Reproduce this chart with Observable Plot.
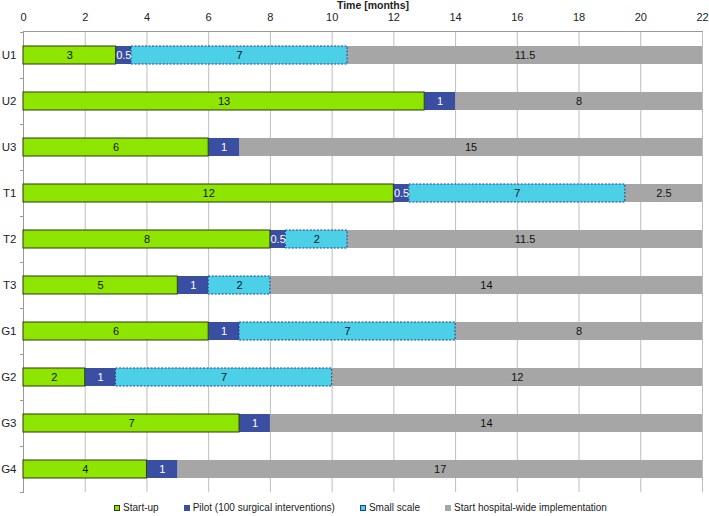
<!DOCTYPE html>
<html>
<head>
<meta charset="utf-8">
<script src="https://cdn.jsdelivr.net/npm/d3@7"></script>
<script src="https://cdn.jsdelivr.net/npm/@observablehq/plot@0.6"></script>
<style>
  body { margin: 0; background: #fff; font-family: "Liberation Sans", Arial, sans-serif; }
  #legend { display: flex; justify-content: center; gap: 25px; font-size: 10px; color: #222; margin-top: 6px; padding-left: 12px; }
  #legend span.item { display: inline-flex; align-items: center; }
  #legend i { display: inline-block; width: 6px; height: 6px; margin-right: 3px; box-sizing: border-box; }
</style>
</head>
<body>
<div id="chart"></div>
<div id="legend"></div>
<script>
const sites = ["U1", "U2", "U3", "T1", "T2", "T3", "G1", "G2", "G3", "G4"];
const startup = [3, 13, 6, 12, 8, 5, 6, 2, 7, 4];
const pilot = [0.5, 1, 1, 0.5, 0.5, 1, 1, 1, 1, 1];
const smallScale = [7, 0, 0, 7, 2, 2, 7, 7, 0, 0];
const hospitalWide = [11.5, 8, 15, 2.5, 11.5, 14, 8, 12, 14, 17];
const phases = ["Start-up", "Pilot (100 surgical interventions)", "Small scale", "Start hospital-wide implementation"];
const phaseColors = ["#8ee600", "#3b4fa2", "#4bd0e8", "#a6a6a6"];
const xTicks = [0, 2, 4, 6, 8, 10, 12, 14, 16, 18, 20, 22];

const series = [startup, pilot, smallScale, hospitalWide];
const rows = [];
sites.forEach((site, i) => {
  let acc = 0;
  series.forEach((vals, p) => {
    const v = vals[i];
    if (v > 0) rows.push({site, phase: phases[p], value: v, x1: acc, x2: acc + v});
    acc += v;
  });
});
const byPhase = p => rows.filter(d => d.phase === phases[p]);

const band = {y: "site"};
const plot = Plot.plot({
  width: 709,
  height: 496,
  marginLeft: 23,
  marginRight: 7,
  marginTop: 31,
  marginBottom: 4,
  style: {fontFamily: "Liberation Sans, Arial, sans-serif", fontSize: "11px", color: "#222"},
  x: {domain: [0, 22]},
  y: {domain: sites, paddingInner: 0.61, paddingOuter: 0.305},
  color: {domain: phases, range: phaseColors},
  marks: [
    Plot.gridX(xTicks, {stroke: "#bdbdbd", strokeOpacity: 1}),
    Plot.frame({anchor: "top", stroke: "#999"}),
    Plot.frame({anchor: "left", stroke: "#999"}),
    Plot.ruleY(sites, {y: d => d, dy: 23, x1: -0.1, x2: 0, stroke: "#999"}),
    Plot.ruleY([sites[0]], {y: d => d, dy: -23, x1: -0.1, x2: 0, stroke: "#999"}),
    Plot.axisX(xTicks, {anchor: "top", tickSize: 0, tickPadding: 11, fontSize: 11, label: null}),
    Plot.text(["Time [months]"], {frameAnchor: "top", dy: -30, dx: 10, fontWeight: "bold", fontSize: 10.5, lineAnchor: "top"}),
    Plot.axisY({tickSize: 0, tickPadding: 7, fontSize: 11.5, label: null}),
    Plot.barX(byPhase(3), {x1: "x1", x2: "x2", ...band, fill: phaseColors[3]}),
    Plot.barX(byPhase(1), {x1: "x1", x2: "x2", ...band, fill: phaseColors[1]}),
    Plot.barX(byPhase(2), {x1: "x1", x2: "x2", ...band, fill: phaseColors[2], stroke: "#1f3f86", strokeWidth: 1, strokeDasharray: "2,1.5"}),
    Plot.barX(byPhase(0), {x1: "x1", x2: "x2", ...band, fill: phaseColors[0], stroke: "#2a3a10", strokeWidth: 1}),
    Plot.text(rows, {x: d => (d.x1 + d.x2) / 2, y: "site", text: d => String(d.value), fill: d => d.phase === phases[1] ? "#fff" : "#111", fontSize: 11})
  ]
});
document.getElementById("chart").appendChild(plot);

const legendStyles = [
  "background:#8ee600;border:1px solid #2a3a10",
  "background:#3b4fa2",
  "background:#4bd0e8;border:1px dashed #1f3f86",
  "background:#a6a6a6"
];
const legend = document.getElementById("legend");
phases.forEach((p, i) => {
  const s = document.createElement("span");
  s.className = "item";
  s.innerHTML = `<i style="${legendStyles[i]}"></i>${p}`;
  legend.appendChild(s);
});
</script>
</body>
</html>
